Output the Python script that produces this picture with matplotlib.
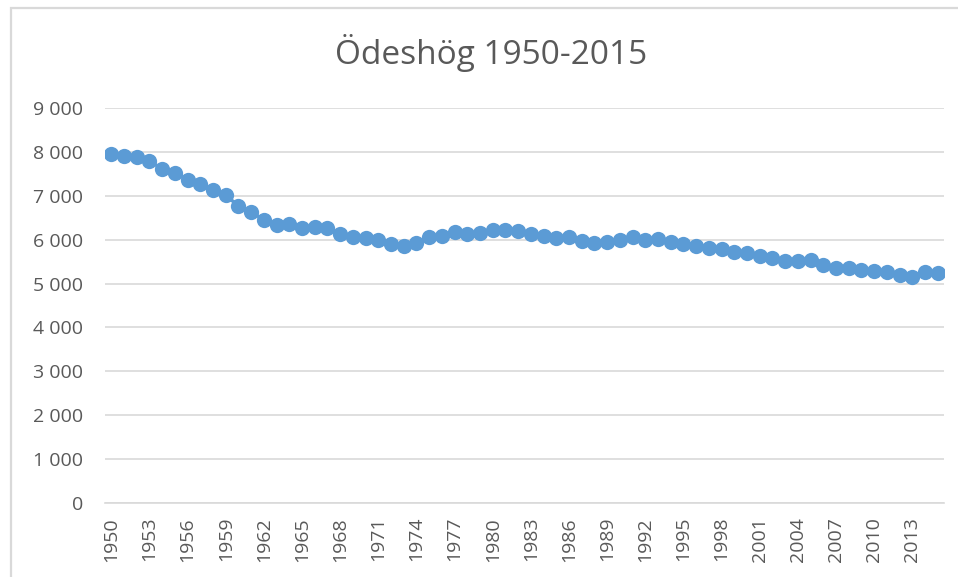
import matplotlib
matplotlib.use("Agg")
import matplotlib.pyplot as plt
import matplotlib.patches as patches
from matplotlib.ticker import FuncFormatter, MultipleLocator
import numpy as np

# Data
years = list(range(1950, 2016))
population = [
    7960, 7904, 7890, 7790, 7615, 7530, 7357, 7260, 7130, 7016,  # 1950-1959
    6765, 6636, 6447, 6333, 6355, 6271, 6294, 6257, 6120, 6066,  # 1960-1969
    6043, 5990, 5893, 5861, 5930, 6066, 6089, 6180, 6120, 6157,  # 1970-1979
    6219, 6219, 6196, 6128, 6082, 6029, 6052, 5975, 5915, 5953,  # 1980-1989
    5991, 6066, 5991, 6020, 5940, 5893, 5861, 5802, 5779, 5710,  # 1990-1999
    5688, 5634, 5574, 5520, 5520, 5535, 5421, 5360, 5345, 5308,  # 2000-2009
    5292, 5269, 5194, 5155, 5269, 5232,                          # 2010-2015
]
title = "Ödeshög 1950-2015"

plt.rcParams['font.family'] = ['Open Sans', 'DejaVu Sans']
W, H = 958, 577
fig = plt.figure(figsize=(W / 100, H / 100), dpi=100)

# Axes placed by pixel positions of the plot area
left, right, top, bottom = 105, 944, 108, 503
ax = fig.add_axes([left / W, 1 - bottom / H, (right - left) / W, (bottom - top) / H])

x = np.arange(len(years))
ax.plot(x, population, color='#5b9bd5', lw=2.5, marker='o', markersize=11,
        markeredgewidth=0, zorder=3)

ax.set_xlim(-0.5, len(years) - 0.5)
ax.set_ylim(0, 9000)
ax.yaxis.set_major_locator(MultipleLocator(1000))
ax.yaxis.set_major_formatter(FuncFormatter(lambda v, p: f"{int(v):,}".replace(",", " ")))
ax.set_xticks(x[::3])
ax.set_xticklabels([str(y) for y in years[::3]], rotation=90)

ax.grid(axis='y', color='#d9d9d9', lw=1.2)
ax.set_axisbelow(True)
for s in ['top', 'right', 'left']:
    ax.spines[s].set_visible(False)
ax.spines['bottom'].set_color('#d9d9d9')
ax.spines['bottom'].set_linewidth(1.2)
ax.tick_params(axis='both', length=0, colors='#595959', labelsize=14)
ax.tick_params(axis='y', pad=16)
ax.tick_params(axis='x', pad=10)

fig.text(491 / W, 1 - 64 / H, title, ha='center', va='baseline', fontsize=24, color='#595959')

# Light chart border (cut off on the right and bottom as in the reference)
fig.patches.append(patches.Rectangle((11 / W, -0.05), 1.1, 1 - 8 / H + 0.05,
                                     transform=fig.transFigure, fill=False,
                                     edgecolor='#d9d9d9', lw=1.6))

fig.savefig("out.png", dpi=100)
